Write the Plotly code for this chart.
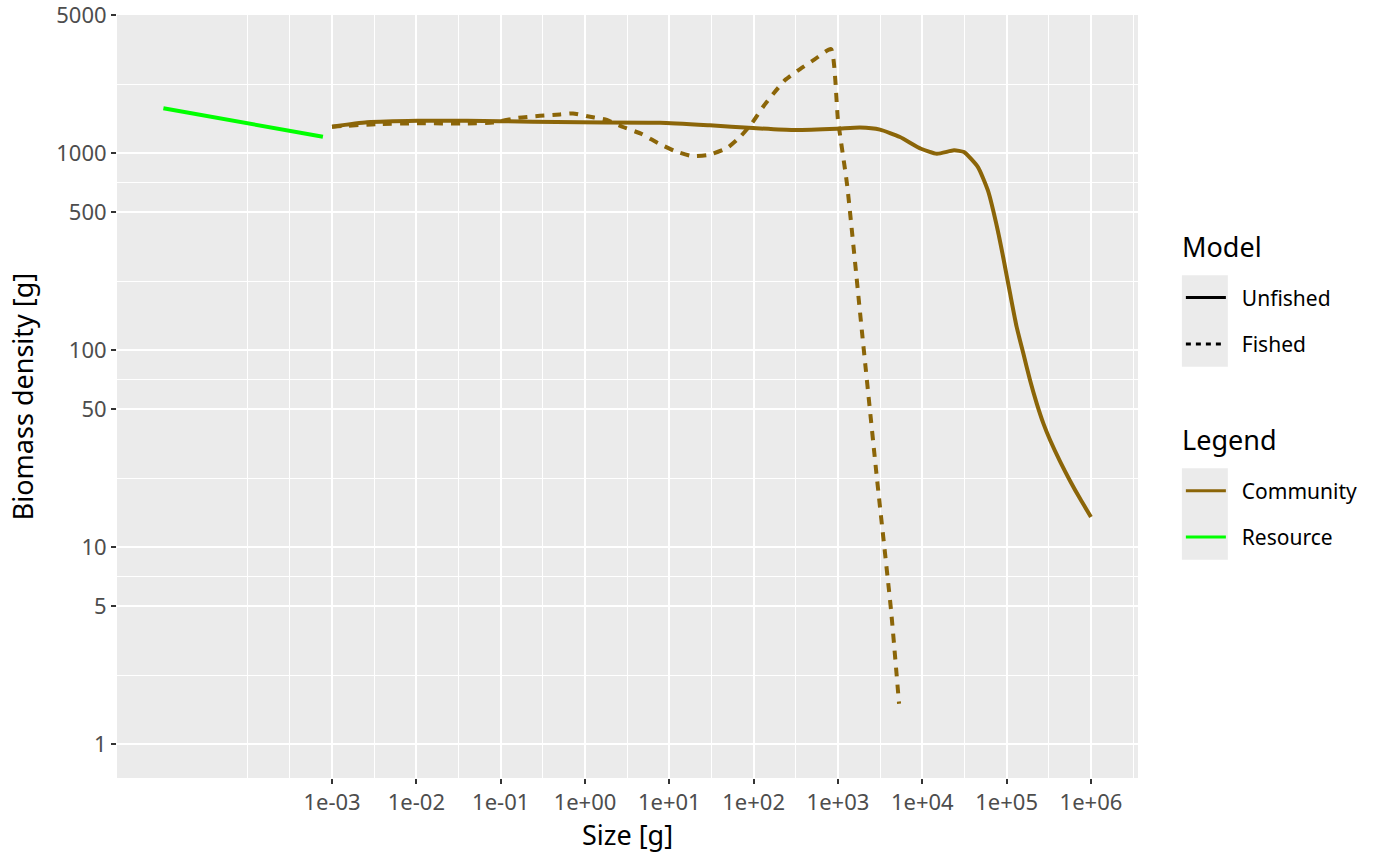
import numpy as np
import plotly.graph_objects as go

# Resource spectrum
res_size = [1e-5, 9.8e-5, 7.8e-4]
res_biomass = [1687, 1416, 1210]

# Community, unfished
unf_size = [1e-3, 2.6e-3, 0.0102, 0.04, 0.24, 0.87, 7.75, 30.3, 98, 293, 973,
            1823, 3150, 5430, 9640, 14900, 23800, 31200, 45700, 60100, 79000,
            91200, 109600, 131500, 157700, 189300, 227300, 272600, 327400,
            429900, 564400, 741600, 1e6]
unf_biomass = [1361, 1432, 1459, 1459, 1443, 1432, 1426, 1383, 1340, 1309, 1328,
               1347, 1315, 1206, 1052, 991, 1032, 1012, 849, 644, 400,
               295, 195, 131, 96.2, 70.4, 53.6, 42.4, 34.9,
               27.2, 21.7, 17.6, 14.2]

# Community, fished
fis_size = [1e-3, 3.4e-3, 0.0102, 0.04, 0.081, 0.156, 0.293, 0.506, 0.72, 1.15,
            1.82, 2.82, 4.74, 7.35, 11.7, 18.6, 28.8, 48.3, 68.9, 95.7, 129,
            170, 236, 355, 534, 826, 1000, 1279, 1928, 2904, 4256, 5300]
fis_biomass = [1361, 1403, 1416, 1413, 1429, 1506, 1546, 1571, 1590, 1528,
               1472, 1356, 1248, 1124, 1023, 966, 977, 1060, 1206, 1420, 1713,
               1993, 2348, 2670, 2999, 3373, 1472, 697, 123, 22.1, 4.79, 1.6]

x_ticks = [1e-3, 1e-2, 1e-1, 1e0, 1e1, 1e2, 1e3, 1e4, 1e5, 1e6]
x_labels = ["1e-03", "1e-02", "1e-01", "1e+00", "1e+01", "1e+02", "1e+03",
            "1e+04", "1e+05", "1e+06"]
y_ticks = [1, 5, 10, 50, 100, 500, 1000, 5000]
y_labels = ["1", "5", "10", "50", "100", "500", "1000", "5000"]

COMMUNITY = "#8B6508"
RESOURCE = "#00FF00"
FONT = "Noto Sans"
PAD = "\u00a0\u00a0"  # little gap between key and label, as in ggplot

# minor grid lines sit half way between the major ones (in log space)
lx = np.log10(x_ticks)
x_minor = 10 ** np.concatenate([[lx[0] - 1], (lx[:-1] + lx[1:]) / 2, [lx[0] - 0.5, lx[-1] + 0.5]])
ly = np.log10(y_ticks)
y_minor = 10 ** ((ly[:-1] + ly[1:]) / 2)

fig = go.Figure()

fig.add_trace(go.Scatter(x=res_size, y=res_biomass, mode="lines",
                         line=dict(color=RESOURCE, width=4), showlegend=False))
fig.add_trace(go.Scatter(x=unf_size, y=unf_biomass, mode="lines",
                         line=dict(color=COMMUNITY, width=4, shape="spline", smoothing=0.5),
                         showlegend=False))
fig.add_trace(go.Scatter(x=fis_size, y=fis_biomass, mode="lines",
                         line=dict(color=COMMUNITY, width=4, dash="9px,8px", shape="spline", smoothing=0.5),
                         showlegend=False))

# legend keys
for name, color, dash, grp, leg in [
    ("Unfished", "black", "solid", "a", "legend"),
    ("Fished", "black", "5px,5px", "b", "legend"),
    ("Community", COMMUNITY, "solid", "c", "legend2"),
    ("Resource", RESOURCE, "solid", "d", "legend2"),
]:
    fig.add_trace(go.Scatter(x=[None], y=[None], mode="lines", name=PAD + name,
                             line=dict(color=color, width=3, dash=dash),
                             legendgroup=grp, legend=leg))

axis_common = dict(
    type="log", showline=False, zeroline=False, automargin=False,
    ticks="outside", ticklen=5, tickwidth=2, tickcolor="#333333",
    tickfont=dict(family=FONT, size=22, color="#4D4D4D"), ticklabeloverflow="allow",
    showgrid=True, gridcolor="white", gridwidth=2,
)

fig.update_xaxes(**axis_common, range=[-5.55, 6.558], tickmode="array",
                 tickvals=x_ticks, ticktext=x_labels,
                 minor=dict(tickmode="array", tickvals=list(x_minor), ticks="",
                            showgrid=True, gridcolor="white", gridwidth=1),
                 title=dict(text="Size [g]", font=dict(family=FONT, size=27, color="black"),
                            standoff=7))
fig.update_yaxes(**axis_common, range=[-0.173, 3.701], tickmode="array",
                 tickvals=y_ticks, ticktext=y_labels,
                 minor=dict(tickmode="array", tickvals=list(y_minor), ticks="",
                            showgrid=True, gridcolor="white", gridwidth=1),
                 title=dict(text="Biomass density [g]", font=dict(family=FONT, size=27, color="black"),
                            standoff=14))

legend_common = dict(
    bgcolor="rgba(0,0,0,0)", traceorder="grouped", tracegroupgap=16,
    font=dict(family=FONT, size=21, color="black"), itemwidth=40,
    xanchor="left", yanchor="top",
)

# grey key backgrounds like ggplot
for y0, y1 in [(0.539, 0.659), (0.286, 0.406)]:
    fig.add_shape(type="rect", xref="paper", yref="paper", x0=1.043, x1=1.088,
                  y0=y0, y1=y1, fillcolor="#EBEBEB", line_width=0, layer="below")

# legend titles
for text, ypos in [("Model", 0.696), ("Legend", 0.443)]:
    fig.add_annotation(text=text, xref="paper", yref="paper", x=1.041, y=ypos,
                       xanchor="left", yanchor="middle", showarrow=False,
                       font=dict(family=FONT, size=27, color="black"))

fig.update_layout(
    width=1400, height=865,
    paper_bgcolor="white", plot_bgcolor="#EBEBEB",
    margin=dict(l=117, r=262, t=15, b=87),
    font=dict(family=FONT),
    legend=dict(**legend_common, x=1.042, y=0.656),
    legend2=dict(**legend_common, x=1.042, y=0.403),
)

# drop the browser's default 8px body margin so the figure fills the window
fig.write_html("out.html", config={"displayModeBar": False},
               post_script="document.body.style.margin='0';document.body.style.overflow='hidden';")
